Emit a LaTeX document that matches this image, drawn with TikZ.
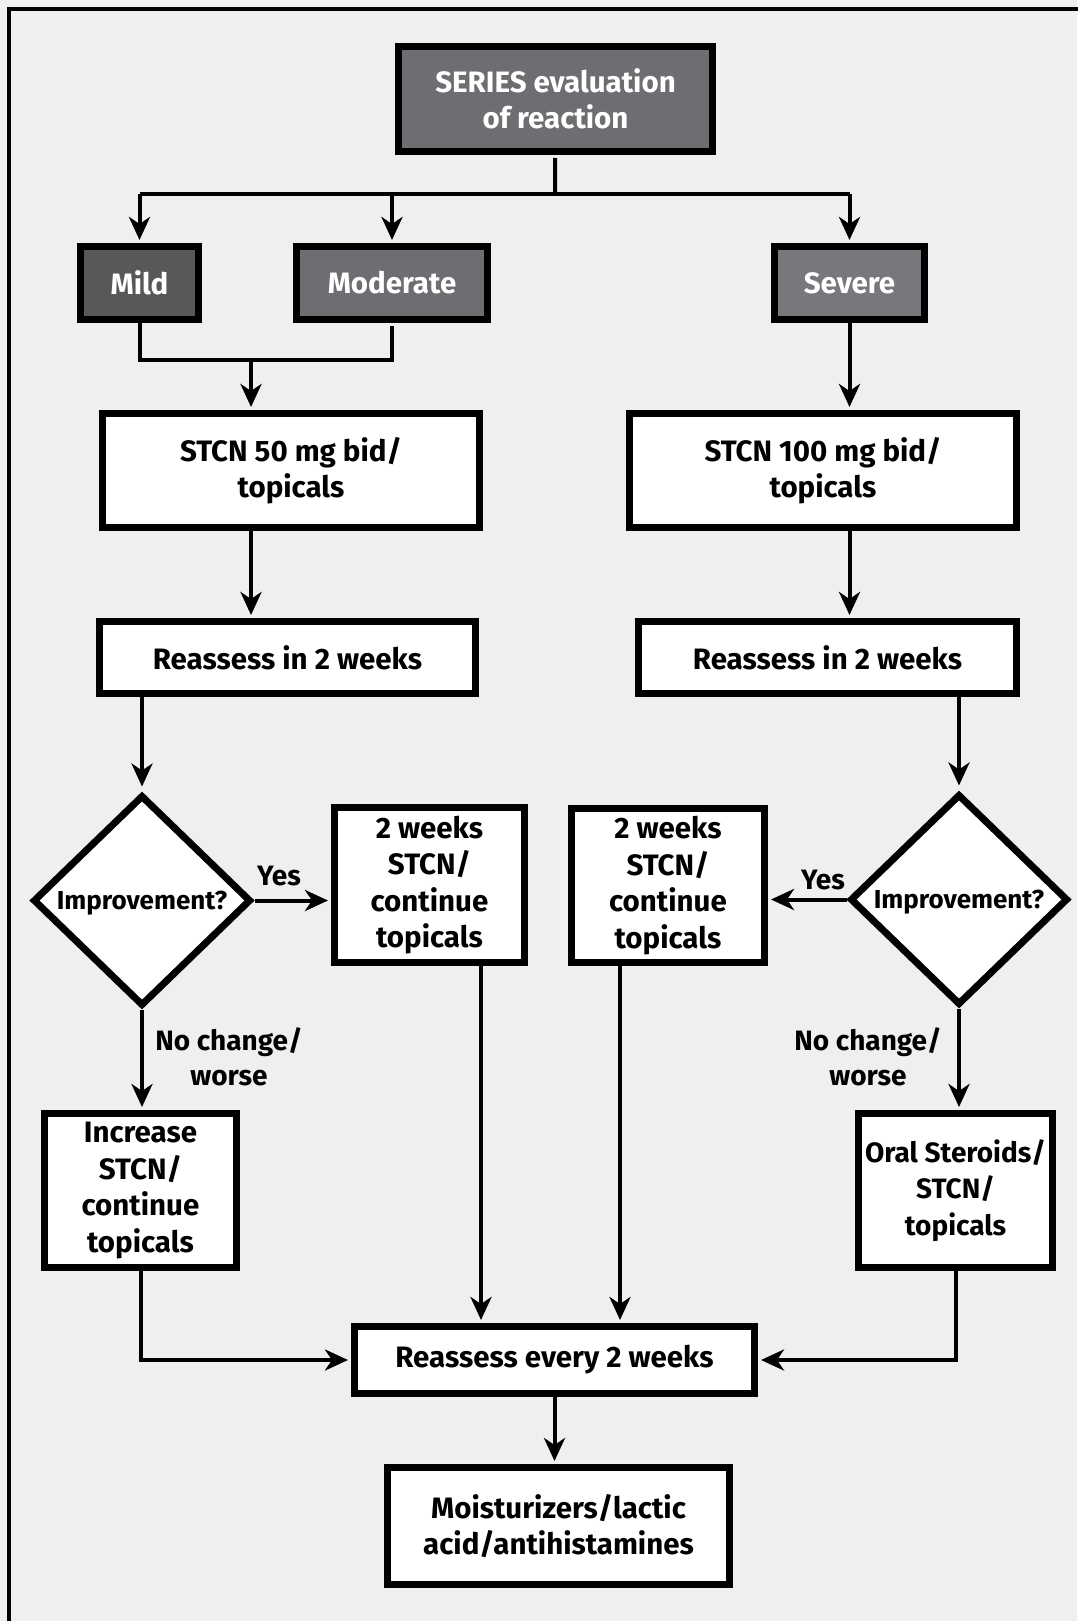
\documentclass[tikz,border=0pt]{standalone}
\usepackage{fontspec}
\setmainfont{Fira Sans}
\usetikzlibrary{shapes, arrows.meta, positioning}
\definecolor{bggray}{HTML}{EFEFEF}
\definecolor{milder}{HTML}{58585A}
\definecolor{midgray}{HTML}{6D6E71}
\definecolor{sevgray}{HTML}{77787B}

\begin{document}
\begin{tikzpicture}[x=1pt,y=-1pt,line width=4pt,shorten >=3pt,
	>={Stealth[length=23pt,width=21pt,inset=7pt]},
	box/.style={draw=black, line width=7pt, fill=white, align=center, inner sep=0pt,
		font=\bfseries\fontsize{29.5}{36.5}\selectfont},
	grade/.style={box, text=white},
	decision/.style={diamond, draw=black, line width=7pt, fill=white, inner sep=0pt,
		minimum width=218pt, minimum height=211pt},
	lbl/.style={font=\bfseries\fontsize{28}{35}\selectfont, align=center}]
	\useasboundingbox[fill=bggray] (0,0) rectangle (1077,1621);
	\draw (9,9) rectangle (1100,1650);

	\node[grade, fill=midgray, minimum width=314pt, minimum height=105pt] (series) at (555.5,99) {SERIES evaluation\\of reaction};
	\node[grade, fill=milder, minimum width=118pt, minimum height=73pt] (mild) at (139.5,283) {Mild};
	\node[grade, fill=midgray, minimum width=191pt, minimum height=73pt] (moderate) at (392,283) {Moderate};
	\node[grade, fill=sevgray, minimum width=150pt, minimum height=73pt] (severe) at (849.5,283) {Severe};
	\node[box, minimum width=377pt, minimum height=114pt] (stcnlow) at (291,470.5) {STCN 50 mg bid/\\topicals};
	\node[box, minimum width=387pt, minimum height=114pt] (stcnhigh) at (823,470.5) {STCN 100 mg bid/\\topicals};
	\node[box, minimum width=376pt, minimum height=72pt] (reassessL) at (287.5,657.5) {Reassess in 2 weeks};
	\node[box, minimum width=378pt, minimum height=72pt] (reassessR) at (827.5,657.5) {Reassess in 2 weeks};
	\node[decision] (improveL) at (142,900.5) {};
	\node[decision] (improveR) at (959,899.5) {};
	\node[lbl, font=\bfseries\fontsize{26}{30}\selectfont] (improveLtxt) at ([yshift=-3pt]improveL) {Improvement?};
	\node[lbl, font=\bfseries\fontsize{26}{30}\selectfont] (improveRtxt) at ([yshift=-3pt]improveR) {Improvement?};
	\node[box, minimum width=190pt, minimum height=155pt] (keepL) at (429.5,885) {2 weeks\\STCN/\\continue\\topicals};
	\node[box, minimum width=193pt, minimum height=154pt] (keepR) at (668,885.5) {2 weeks\\STCN/\\continue\\topicals};
	\node[box, minimum width=192pt, minimum height=154pt] (increase) at (140.5,1190.5) {Increase\\STCN/\\continue\\topicals};
	\node[box, minimum width=194pt, minimum height=154pt, font=\bfseries\fontsize{28}{36.5}\selectfont] (oral) at (955.5,1190.5) {Oral Steroids/\\STCN/\\topicals};
	\node[box, minimum width=400pt, minimum height=67pt] (reassessAll) at (554.5,1360) {Reassess every 2 weeks};
	\node[box, minimum width=342pt, minimum height=117pt] (moist) at (558.5,1526) {Moisturizers/lactic\\acid/antihistamines};

	\node[lbl] (yesL) at (279,876) {Yes};
	\node[lbl] (yesR) at (823,880) {Yes};
	\node[lbl] (worseL) at (229,1057) {No change/\\worse};
	\node[lbl] (worseR) at (868,1057) {No change/\\worse};

	\coordinate (split) at (555,194);
	\coordinate (merge) at (251,360);
	\coordinate (colL) at (481,0);
	\coordinate (colR) at (620,0);

	\draw (split) -- (series);
	\draw[shorten >=0pt] (split -| mild) -- (split -| severe);
	\draw[->] (split -| mild) -- (mild);
	\draw[->] (split -| moderate) -- (moderate);
	\draw[->] (split -| severe) -- (severe);
	\draw (mild) |- (merge) -| (moderate);
	\draw[->] (merge) -- (merge |- stcnlow.north);
	\draw[->] (merge |- stcnlow.south) -- (merge |- reassessL.north);
	\draw[->] (severe) -- (severe |- stcnhigh.north);
	\draw[->] (severe |- stcnhigh.south) -- (severe |- reassessR.north);
	\draw[->, shorten >=5pt] (improveL |- reassessL.south) -- (improveL.north);
	\draw[->, shorten >=5pt] (improveR |- reassessR.south) -- (improveR.north);
	\draw[->] (improveL.east) -- (improveL.east -| keepL.west);
	\draw[->] (improveR.west) -- (improveR.west -| keepR.east);
	\draw[->] (improveL.south) -- (improveL.south |- increase.north);
	\draw[->] (improveR.south) -- (improveR.south |- oral.north);
	\draw[->] (keepL.south -| colL) -- (reassessAll.north -| colL);
	\draw[->] (keepR.south -| colR) -- (reassessAll.north -| colR);
	\draw[->] (increase) |- (reassessAll);
	\draw[->] (oral) |- (reassessAll);
	\draw[->] (reassessAll) -- (reassessAll |- moist.north);
\end{tikzpicture}
\end{document}
